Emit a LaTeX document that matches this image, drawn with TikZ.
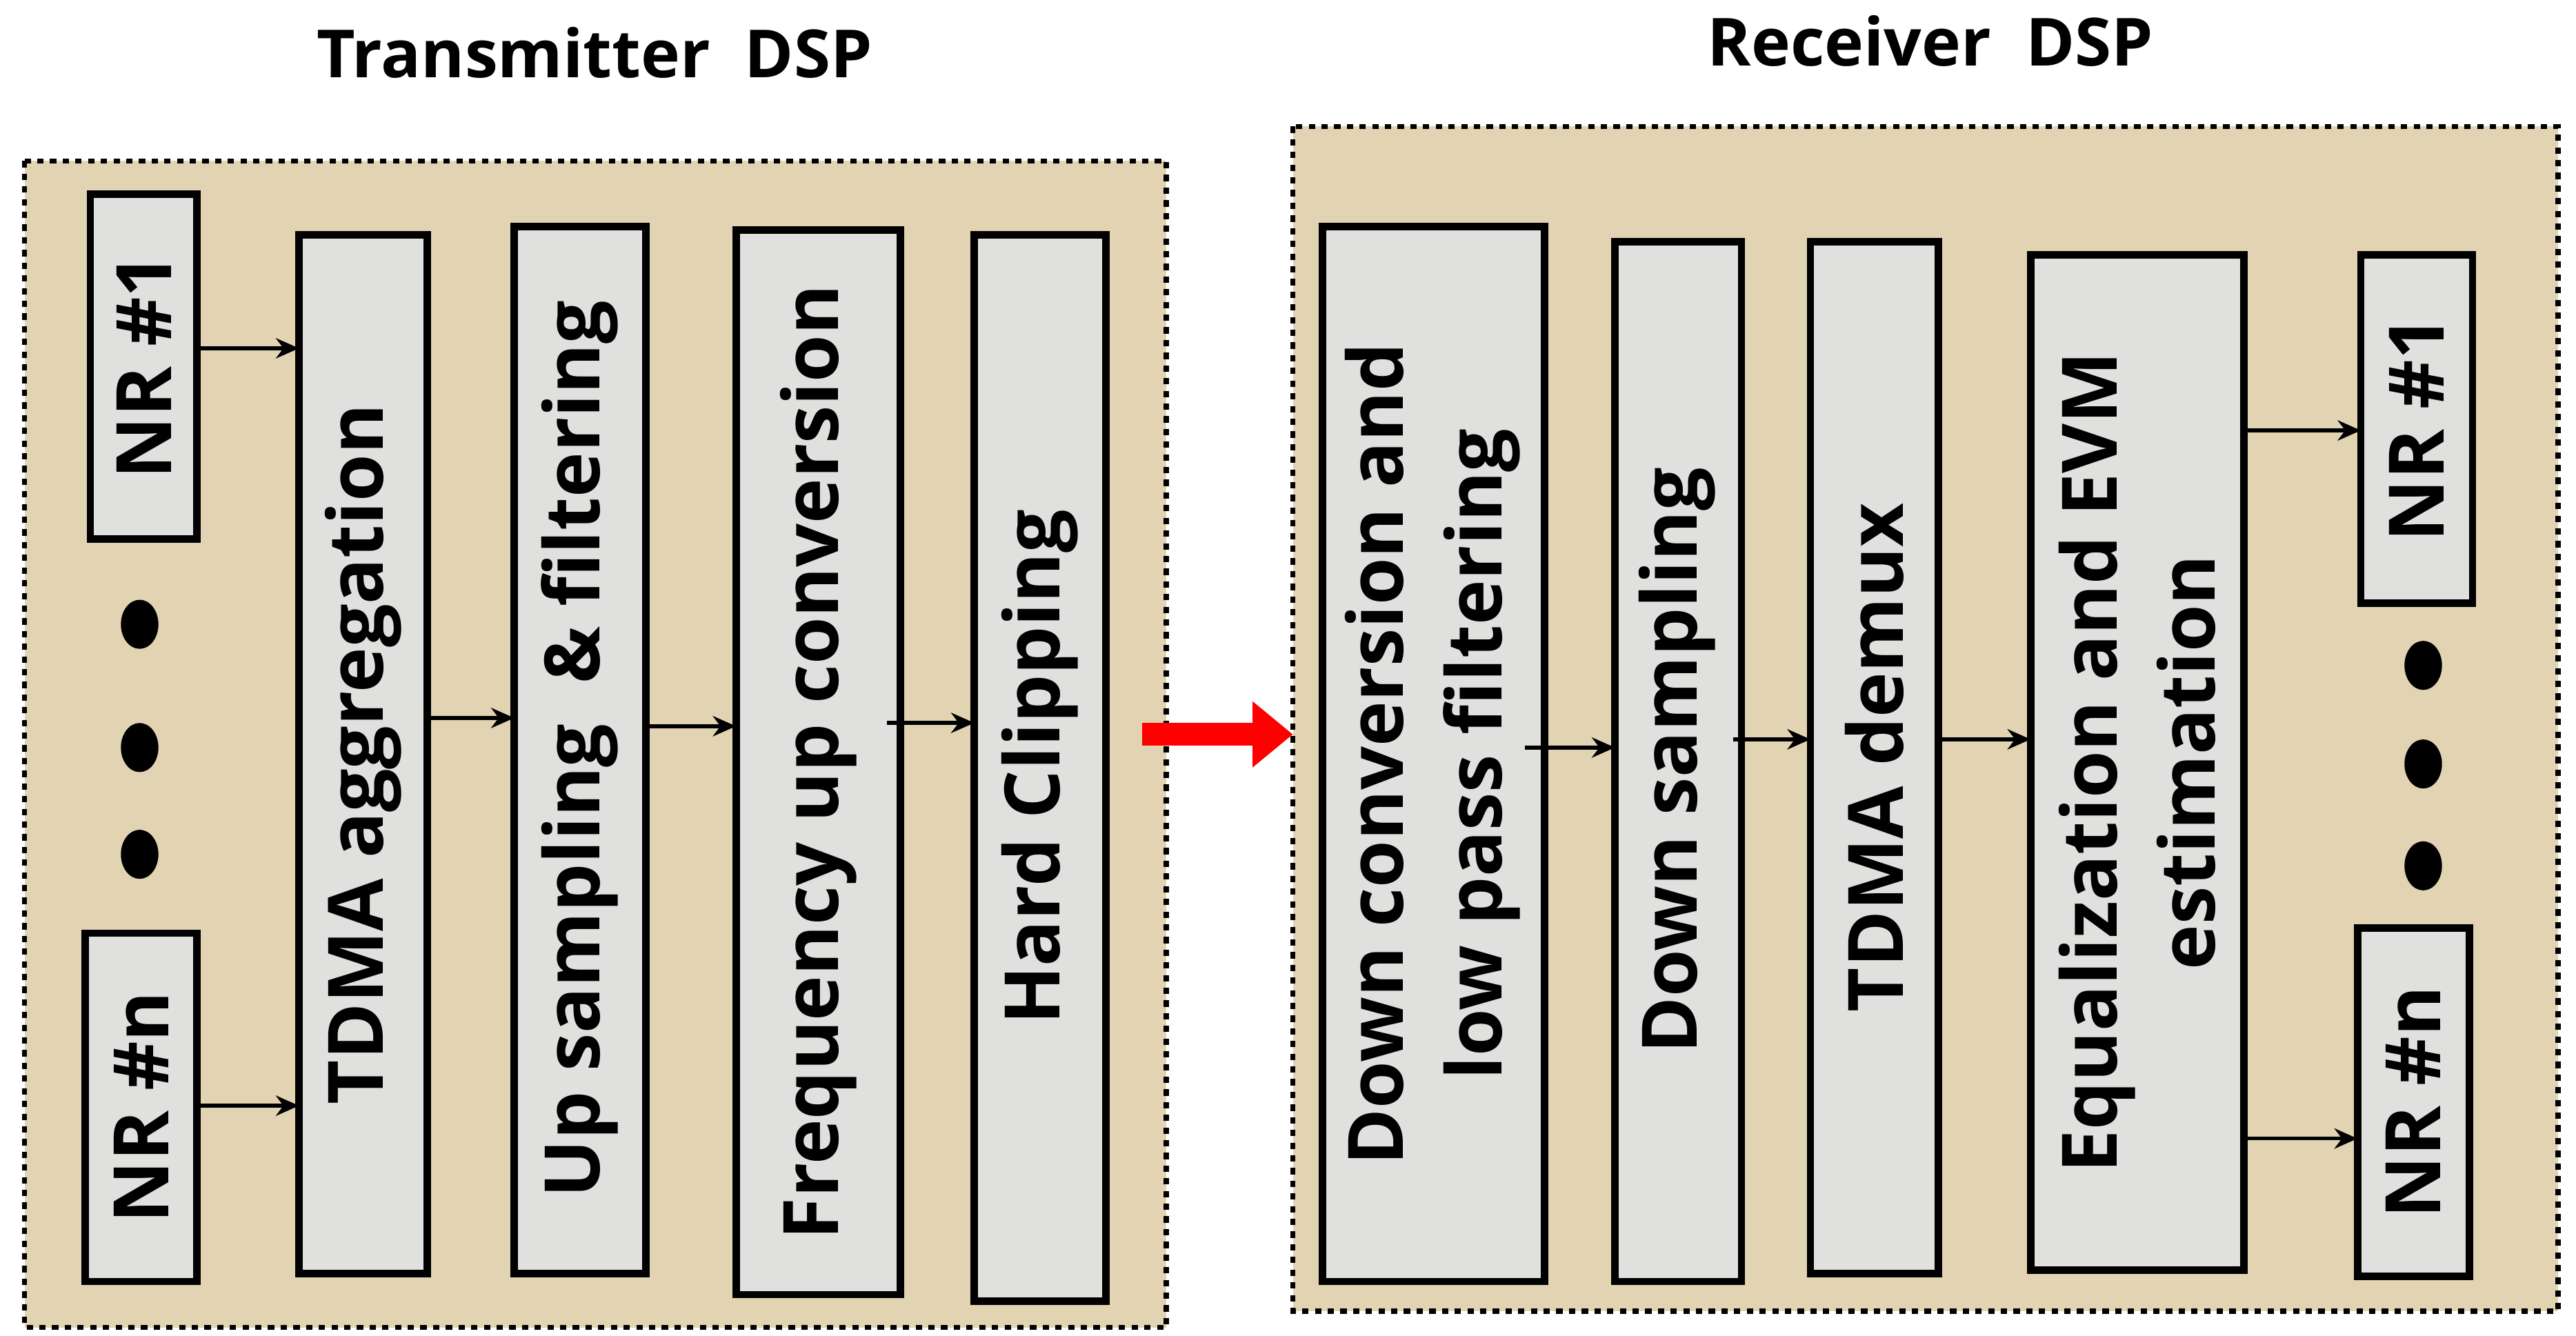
\documentclass[tikz,border=0pt]{standalone}
\usepackage{fontspec}
\setmainfont{Open Sans}
\usetikzlibrary{arrows.meta,shapes.geometric}
\definecolor{tan}{RGB}{226,211,178}
\definecolor{boxg}{RGB}{224,224,222}
\begin{document}
\begin{tikzpicture}[x=0.02cm,y=-0.02cm,
 frame/.style={fill=tan,draw=black,line width=1.8pt,dash pattern=on 2.2pt off 2.2pt},
 blk/.style={fill=boxg,draw=black,line width=2.6pt},
 lbl/.style={rotate=90,font=\fontsize{26.5}{34}\selectfont\bfseries,align=center},
 arr/.style={-{Stealth[length=8pt,width=7pt]},line width=1.3pt},
 dot/.style={fill=black,ellipse,inner sep=0pt,minimum width=13pt,minimum height=17pt,draw=none},
 ttl/.style={font=\fontsize{23}{28}\selectfont\bfseries}]
\useasboundingbox (0,0) rectangle (1568,813);
\fill[white] (0,0) rectangle (1568,813);
% titles
\node[ttl] (ttx) at (362,32) {Transmitter\ \ DSP};
\node[ttl] (rtx) at (1175,25) {Receiver\ \ DSP};
% frames
\draw[frame] (15,98) rectangle (710,808);
\draw[frame] (787,77) rectangle (1557,798);
% left blocks
\draw[blk] (55,118) rectangle (120,328); \node[lbl] (n1) at (87.5,223) {NR \#1};
\draw[blk] (52,568) rectangle (120,780); \node[lbl] (nn) at (86,674) {NR \#n};
\draw[blk] (182,143) rectangle (260,775); \node[lbl] (tdma) at (221,459) {TDMA aggregation};
\draw[blk] (313,138) rectangle (393,775); \node[lbl] (up) at (353,456) {Up sampling\ \ \&\ filtering};
\draw[blk] (448,140) rectangle (548,788); \node[lbl] (fu) at (498,464) {Frequency up conversion};
\draw[blk] (593,143) rectangle (673,792); \node[lbl] (hc) at (633,467) {Hard Clipping};
\foreach \yy in {380,455,520} \node[dot] at (85,\yy) {};
\coordinate (a1) at (120,212); \coordinate (b1) at (182,212);
\coordinate (a2) at (120,673); \coordinate (b2) at (182,673);
\coordinate (a3) at (260,437); \coordinate (b3) at (313,437);
\coordinate (a4) at (393,442); \coordinate (b4) at (448,442);
\coordinate (a5) at (540,440); \coordinate (b5) at (593,440);
\foreach \i in {1,...,5} \draw[arr] (a\i) -- (b\i);
% red arrow
\coordinate (ra) at (695,447); \coordinate (rb) at (787,447);
\draw[-{Triangle[length=14pt,width=22pt]},line width=8pt,draw=red,fill=red] (ra) -- (rb);
% right blocks
\draw[blk] (805,138) rectangle (940,780); \node[lbl] (dc) at (872,459) {Down conversion and\\low pass filtering};
\draw[blk] (983,147) rectangle (1060,780); \node[lbl] (ds) at (1021,463) {Down sampling};
\draw[blk] (1102,147) rectangle (1180,775); \node[lbl] (dm) at (1141,461) {TDMA demux};
\draw[blk] (1236,155) rectangle (1366,773); \node[lbl] (eq) at (1301,464) {Equalization and EVM\\estimation};
\draw[blk] (1437,155) rectangle (1505,367); \node[lbl] (r1) at (1471,261) {NR \#1};
\draw[blk] (1435,565) rectangle (1503,777); \node[lbl] (rn) at (1469,671) {NR \#n};
\foreach \yy in {405,465,527} \node[dot] at (1475,\yy) {};
\coordinate (c1) at (928,455); \coordinate (d1) at (983,455);
\coordinate (c2) at (1055,450); \coordinate (d2) at (1102,450);
\coordinate (c3) at (1180,450); \coordinate (d3) at (1236,450);
\coordinate (c4) at (1366,262); \coordinate (d4) at (1437,262);
\coordinate (c5) at (1366,693); \coordinate (d5) at (1435,693);
\foreach \i in {1,...,5} \draw[arr] (c\i) -- (d\i);
\end{tikzpicture}
\end{document}
